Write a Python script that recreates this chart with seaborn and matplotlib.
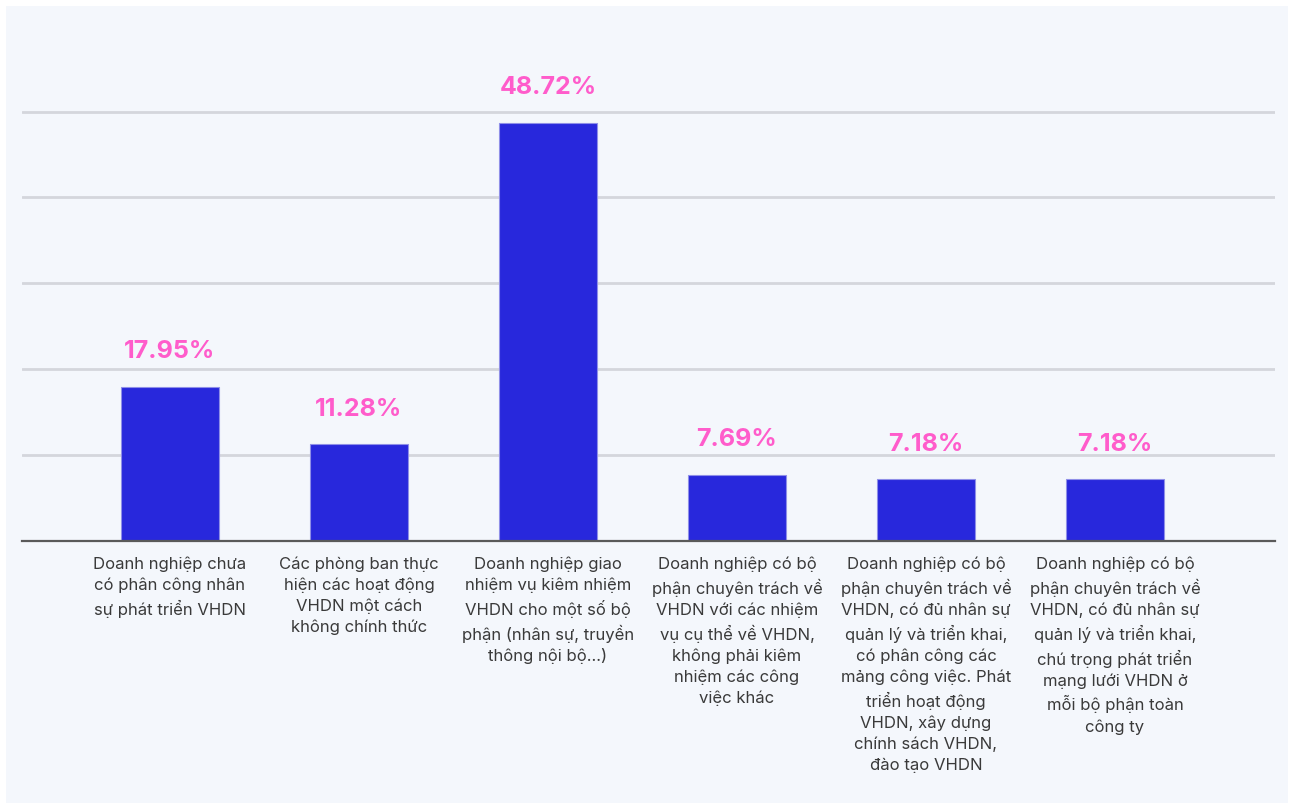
import matplotlib.pyplot as plt
import matplotlib.patches as mpatches
import pandas as pd
import seaborn as sns

# data
categories = [
    "Doanh nghiệp chưa\ncó phân công nhân\nsự phát triển VHDN",
    "Các phòng ban thực\nhiện các hoạt động\nVHDN một cách\nkhông chính thức",
    "Doanh nghiệp giao\nnhiệm vụ kiêm nhiệm\nVHDN cho một số bộ\nphận (nhân sự, truyền\nthông nội bộ...)",
    "Doanh nghiệp có bộ\nphận chuyên trách về\nVHDN với các nhiệm\nvụ cụ thể về VHDN,\nkhông phải kiêm\nnhiệm các công\nviệc khác",
    "Doanh nghiệp có bộ\nphận chuyên trách về\nVHDN, có đủ nhân sự\nquản lý và triển khai,\ncó phân công các\nmảng công việc. Phát\ntriển hoạt động\nVHDN, xây dựng\nchính sách VHDN,\nđào tạo VHDN",
    "Doanh nghiệp có bộ\nphận chuyên trách về\nVHDN, có đủ nhân sự\nquản lý và triển khai,\nchú trọng phát triển\nmạng lưới VHDN ở\nmỗi bộ phận toàn\ncông ty",
]
values = [17.95, 11.28, 48.72, 7.69, 7.18, 7.18]
gridlines = [10, 20, 30, 40, 50]

BAR = "#2828dc"
PINK = "#ff5ccb"
BG = "#f4f7fc"

sns.set_theme(style="white")
plt.rcParams["font.family"] = ["Inter", "DejaVu Sans"]

df = pd.DataFrame({"category": categories, "value": values})

fig = plt.figure(figsize=(12.9, 8.07), dpi=100, facecolor="white")
# light panel behind the chart
fig.patches.append(
    mpatches.Rectangle(
        (6 / 1290, 4 / 807), 1282 / 1290, 797 / 807,
        transform=fig.transFigure, facecolor=BG, edgecolor="none", zorder=-5,
    )
)
ax = fig.add_axes([22 / 1290, 266 / 807, 1253 / 1290, 481 / 807])
ax.set_zorder(2)
ax.patch.set_alpha(0)

sns.barplot(
    data=df, x="category", y="value", color=BAR, width=0.52,
    edgecolor="#8f8fe8", linewidth=0.8, saturation=1, ax=ax, zorder=3,
)

for y in gridlines:
    ax.axhline(y, color="#d4d6dc", linewidth=2, zorder=1)

for i, v in enumerate(values):
    ax.annotate(
        f"{v:.2f}%", (i, v), xytext=(0, 17), textcoords="offset points",
        ha="center", va="bottom", color=PINK, fontsize=18, fontweight="bold",
    )

ax.set_xlim(-0.783, 5.847)
ax.set_ylim(0, 56.0)
ax.set_xlabel("")
ax.set_ylabel("")
ax.set_yticks([])
for side in ["top", "right", "left"]:
    ax.spines[side].set_visible(False)
ax.spines["bottom"].set_color("#5a5a5a")
ax.spines["bottom"].set_linewidth(1.6)
ax.spines["bottom"].set_zorder(4)
ax.tick_params(axis="x", length=0, pad=11)
for lbl in ax.get_xticklabels():
    lbl.set_fontsize(12)
    lbl.set_color("#3a3a3a")
    lbl.set_linespacing(1.45)
    lbl.set_ha("center")
    lbl.set_va("top")

fig.savefig("out.png", dpi=100, facecolor="white")
